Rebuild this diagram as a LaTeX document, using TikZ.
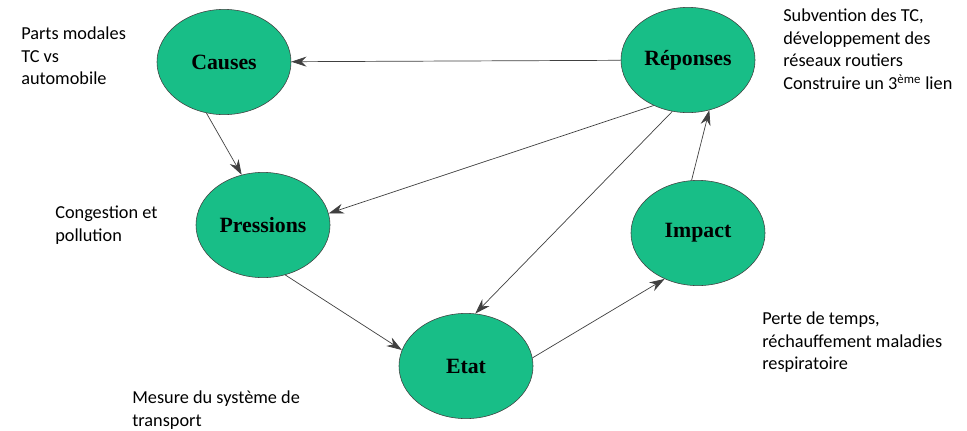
\documentclass[tikz,border=0pt]{standalone}
\usepackage{fontspec}
\setmainfont{Carlito}
\newfontfamily\bullefont{Liberation Serif}
\usetikzlibrary{shapes.geometric,arrows.meta}
\definecolor{vertdpsir}{RGB}{24,190,135}
\tikzset{
  bulle/.style={draw=black!75, thin, fill=vertdpsir, ellipse, minimum width=3.35cm, minimum height=2.63cm, inner sep=0pt, font=\bullefont\bfseries\fontsize{15.5}{18}\selectfont},
  note/.style={anchor=north west, align=left, inner sep=0pt, font=\fontsize{13}{16}\selectfont},
  lien/.style={->, draw=black!75, line width=0.5pt}
}

\begin{document}
\begin{tikzpicture}[x=0.025cm, y=-0.025cm, >={Stealth[length=3.8mm,width=2.5mm]}]
\useasboundingbox (0,0) rectangle (967,430);
% les cinq bulles
\node[bulle] (c) at (224,62) {Causes};
\node[bulle] (r) at (688,60) {Réponses};
\node[bulle] (p) at (263,225) {Pressions};
\node[bulle] (i) at (698,233) {Impact};
\node[bulle] (e) at (466,366) {Etat};
% les textes
\node[note] (tc) at (21,27) {Parts modales\\TC vs\\automobile};
\node[note] (tp) at (55,206) {Congestion et\\pollution};
\node[note] (tr) at (783,9) {Subvention des TC,\\développement des\\réseaux routiers\\Construire un 3\textsuperscript{ème} lien};
\node[note] (ti) at (762,312) {Perte de temps,\\réchauffement maladies\\respiratoire};
\node[note] (te) at (132,391) {Mesure du système de\\transport};
% les liens
\draw[lien] (r) -- (c);
\draw[lien] (c.251) -- (p.113);
\draw[lien] (r.233) -- (p.10);
\draw[lien] (r.253) -- (e.80);
\draw[lien] (p.294) -- (e.166);
\draw[lien] (e.7) -- (i.234);
\draw[lien] (i.97) -- (r.293);
\end{tikzpicture}
\end{document}
